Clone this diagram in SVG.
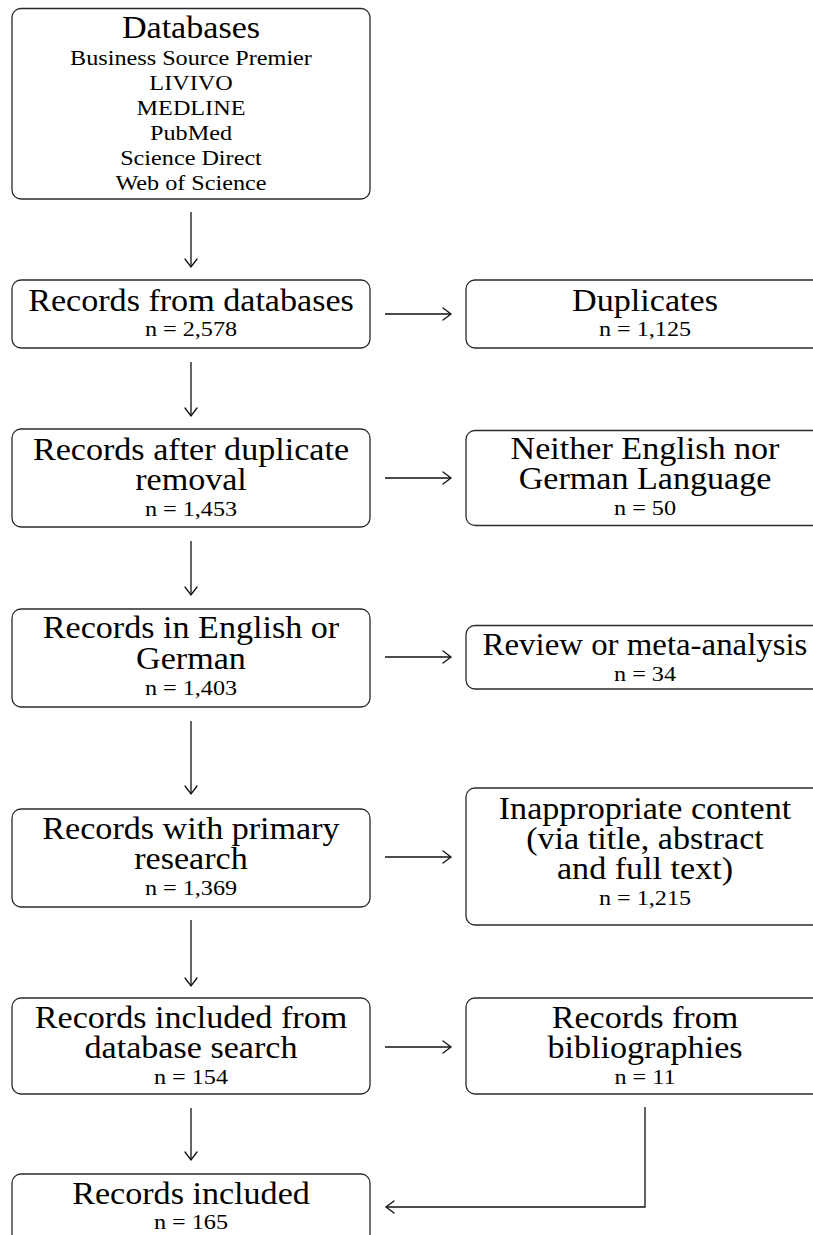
<svg xmlns="http://www.w3.org/2000/svg" width="813" height="1235" viewBox="0 0 813 1235">
<defs>
<style>
.box{fill:#fff;stroke:#2a2a2a;stroke-width:1.3}
.big{font-family:"Liberation Serif",serif;font-size:31px;fill:#000;text-anchor:middle}
.sm{font-family:"Liberation Serif",serif;font-size:22px;fill:#000;text-anchor:middle}
.ln{fill:none;stroke:#111;stroke-width:1.3}
</style>
<marker id="to" markerUnits="userSpaceOnUse" markerWidth="16" markerHeight="16" viewBox="-10 -8 12 16" refX="0" refY="0" orient="auto">
<path d="M-8,-6 Q-2,-1.5 0,0 Q-2,1.5 -8,6" fill="none" stroke="#111" stroke-width="1.3" stroke-linecap="round"/>
</marker>
</defs>
<rect width="813" height="1235" fill="#fff"/>
<g id="connectors">
<line class="ln" x1="191" y1="212" x2="191" y2="267" marker-end="url(#to)"/>
<line class="ln" x1="191" y1="362" x2="191" y2="416" marker-end="url(#to)"/>
<line class="ln" x1="191" y1="541" x2="191" y2="595" marker-end="url(#to)"/>
<line class="ln" x1="191" y1="721" x2="191" y2="794" marker-end="url(#to)"/>
<line class="ln" x1="191" y1="920" x2="191" y2="986" marker-end="url(#to)"/>
<line class="ln" x1="191" y1="1108" x2="191" y2="1160" marker-end="url(#to)"/>
<line class="ln" x1="385" y1="314" x2="451" y2="314" marker-end="url(#to)"/>
<line class="ln" x1="385" y1="478" x2="451" y2="478" marker-end="url(#to)"/>
<line class="ln" x1="385" y1="657" x2="451" y2="657" marker-end="url(#to)"/>
<line class="ln" x1="385" y1="857" x2="451" y2="857" marker-end="url(#to)"/>
<line class="ln" x1="385" y1="1047" x2="451" y2="1047" marker-end="url(#to)"/>
<polyline class="ln" points="645,1107 645,1207 386,1207" marker-end="url(#to)"/>
</g>
<g id="databases">
<rect class="box" x="12" y="8.5" width="358" height="190.5" rx="9"/>
<text class="big" transform="translate(191,38) scale(1.1,1)">Databases</text>
<text class="sm" transform="translate(191,65) scale(1.1,1)">Business Source Premier</text>
<text class="sm" transform="translate(191,90) scale(1.1,1)">LIVIVO</text>
<text class="sm" transform="translate(191,115) scale(1.1,1)">MEDLINE</text>
<text class="sm" transform="translate(191,140) scale(1.1,1)">PubMed</text>
<text class="sm" transform="translate(191,165) scale(1.1,1)">Science Direct</text>
<text class="sm" transform="translate(191,190) scale(1.1,1)">Web of Science</text>
</g>
<g id="records-from-databases">
<rect class="box" x="12" y="280" width="358" height="68" rx="9"/>
<text class="big" transform="translate(191,311) scale(1.1,1)">Records from databases</text>
<text class="sm" transform="translate(191,336) scale(1.1,1)">n = 2,578</text>
</g>
<g id="duplicates">
<rect class="box" x="466" y="280" width="358" height="68" rx="9"/>
<text class="big" transform="translate(645,311) scale(1.1,1)">Duplicates</text>
<text class="sm" transform="translate(645,336) scale(1.1,1)">n = 1,125</text>
</g>
<g id="after-duplicate-removal">
<rect class="box" x="12" y="429" width="358" height="98" rx="9"/>
<text class="big" transform="translate(191,460) scale(1.1,1)">Records after duplicate</text>
<text class="big" transform="translate(191,490) scale(1.1,1)">removal</text>
<text class="sm" transform="translate(191,516) scale(1.1,1)">n = 1,453</text>
</g>
<g id="language-excluded">
<rect class="box" x="466" y="430.5" width="358" height="95" rx="9"/>
<text class="big" transform="translate(645,459) scale(1.1,1)">Neither English nor</text>
<text class="big" transform="translate(645,489) scale(1.1,1)">German Language</text>
<text class="sm" transform="translate(645,515) scale(1.1,1)">n = 50</text>
</g>
<g id="english-or-german">
<rect class="box" x="12" y="609" width="358" height="98" rx="9"/>
<text class="big" transform="translate(191,638) scale(1.1,1)">Records in English or</text>
<text class="big" transform="translate(191,669) scale(1.1,1)">German</text>
<text class="sm" transform="translate(191,695) scale(1.1,1)">n = 1,403</text>
</g>
<g id="review">
<rect class="box" x="466" y="625.5" width="358" height="63.5" rx="9"/>
<text class="big" transform="translate(645,655) scale(1.06,1)">Review or meta-analysis</text>
<text class="sm" transform="translate(645,681) scale(1.1,1)">n = 34</text>
</g>
<g id="primary-research">
<rect class="box" x="12" y="809" width="358" height="98" rx="9"/>
<text class="big" transform="translate(191,839) scale(1.1,1)">Records with primary</text>
<text class="big" transform="translate(191,869) scale(1.1,1)">research</text>
<text class="sm" transform="translate(191,895) scale(1.1,1)">n = 1,369</text>
</g>
<g id="inappropriate">
<rect class="box" x="466" y="788" width="358" height="137" rx="9"/>
<text class="big" transform="translate(645,819) scale(1.1,1)">Inappropriate content</text>
<text class="big" transform="translate(645,849) scale(1.1,1)">(via title, abstract</text>
<text class="big" transform="translate(645,879) scale(1.1,1)">and full text)</text>
<text class="sm" transform="translate(645,905) scale(1.1,1)">n = 1,215</text>
</g>
<g id="included-database">
<rect class="box" x="12" y="998" width="358" height="96" rx="9"/>
<text class="big" transform="translate(191,1028) scale(1.1,1)">Records included from</text>
<text class="big" transform="translate(191,1058) scale(1.1,1)">database search</text>
<text class="sm" transform="translate(191,1084) scale(1.1,1)">n = 154</text>
</g>
<g id="bibliographies">
<rect class="box" x="466" y="998" width="358" height="96" rx="9"/>
<text class="big" transform="translate(645,1028) scale(1.1,1)">Records from</text>
<text class="big" transform="translate(645,1058) scale(1.1,1)">bibliographies</text>
<text class="sm" transform="translate(645,1084) scale(1.1,1)">n = 11</text>
</g>
<g id="included">
<rect class="box" x="12" y="1174" width="358" height="75" rx="9"/>
<text class="big" transform="translate(191,1204) scale(1.1,1)">Records included</text>
<text class="sm" transform="translate(191,1229) scale(1.1,1)">n = 165</text>
</g>
</svg>
